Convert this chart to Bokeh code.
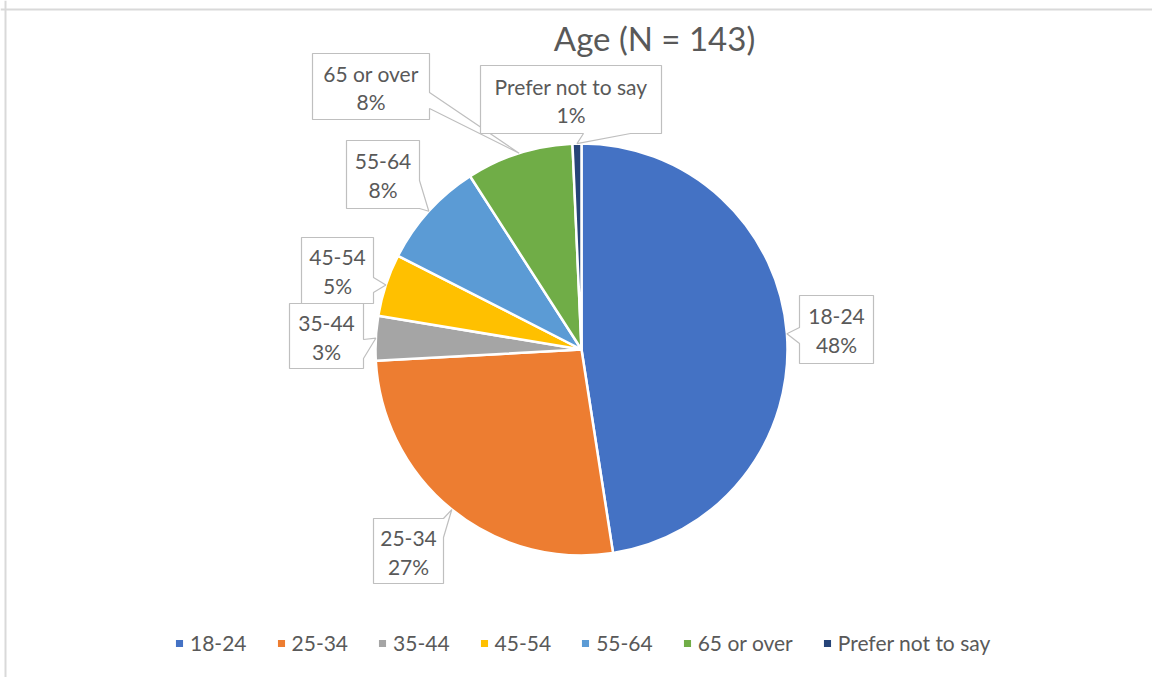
import math
from bokeh.plotting import figure
from bokeh.models import ColumnDataSource, Range1d, Legend, LegendItem, Span, Label
from bokeh.embed import file_html
from bokeh.resources import INLINE
from bokeh.core.properties import value

# ---------------- data ----------------
title_text = "Age (N = 143)"
categories = ["18-24", "25-34", "35-44", "45-54", "55-64", "65 or over", "Prefer not to say"]
counts = [68, 38, 5, 7, 12, 12, 1]
colors = ["#4472C4", "#ED7D31", "#A5A5A5", "#FFC000", "#5B9BD5", "#70AD47", "#264478"]

# ---------------- layout (page pixel coordinates) ----------------
W, H = 1152, 677
OX, OY = 0, 0          # where the figure's top-left sits on the page


def dx(ix):
    return ix - OX


def dy(iy):
    return H + OY - iy


CX, CY, R = 581, 349, 206     # pie centre and radius (page px)
FONT = "Lato"
TXT = "#595959"

# callout boxes: (x0, y0, x1, y1, edge, a, b) – pointer base on given edge between a..b
boxes = [
    (799, 295, 873, 363, "left", 327, 343),
    (373, 518, 443, 583, "right", 518, 537),
    (289, 303, 363, 368, "right", 339, 358),
    (301, 237, 373, 303, "right", 277, 292),
    (346, 140, 419, 208, "right", 180, 208),
    (312, 53, 429, 119, "right", 92, 108),
    (480, 65, 661, 133, "bottom", 583, 630),
]

total = sum(counts)
cum = [0]
for c in counts:
    cum.append(cum[-1] + c)

start = [math.pi / 2 - 2 * math.pi * cum[i] / total for i in range(len(counts))]
end = [math.pi / 2 - 2 * math.pi * cum[i + 1] / total for i in range(len(counts))]
pct = [f"{int(c * 100 / total + 0.5)}%" for c in counts]

p = figure(width=W, height=H, output_backend="svg", toolbar_location=None,
           x_range=Range1d(0, W), y_range=Range1d(0, H),
           x_axis_location=None, y_axis_location=None, min_border=0)
p.outline_line_color = None
p.grid.visible = False
p.background_fill_color = "white"
p.border_fill_color = "white"

src = ColumnDataSource(dict(x=[dx(CX)] * len(counts), y=[dy(CY)] * len(counts),
                            start=start, end=end, color=colors, cat=categories))
wr = p.wedge(x="x", y="y", radius=R, start_angle="start", end_angle="end",
             direction="clock", fill_color="color", line_color="white",
             line_width=2.5, source=src)

# callouts, pointer tips at the middle of each slice's outer edge
xs, ys, tx1, ty1, tx2, ty2 = [], [], [], [], [], []
for i, (x0, y0, x1, y1, edge, a, b) in enumerate(boxes):
    mid = 2 * math.pi * (cum[i] + counts[i] / 2) / total
    tip = (CX + R * math.sin(mid), CY - R * math.cos(mid))
    pts = [(x0, y0)]
    if edge == "top":
        pts += [(a, y0), tip, (b, y0)]
    pts += [(x1, y0)]
    if edge == "right":
        pts += [(x1, a), tip, (x1, b)]
    pts += [(x1, y1)]
    if edge == "bottom":
        pts += [(b, y1), tip, (a, y1)]
    pts += [(x0, y1)]
    if edge == "left":
        pts += [(x0, b), tip, (x0, a)]
    xs.append([dx(px) for px, _ in pts])
    ys.append([dy(py) for _, py in pts])
    cx = (x0 + x1) / 2
    cy = (y0 + y1) / 2
    tx1.append(dx(cx)); ty1.append(dy(cy - 13))
    tx2.append(dx(cx)); ty2.append(dy(cy + 15))

p.patches(xs, ys, fill_color="white", line_color="#BFBFBF", line_width=1.2)
p.text(tx1, ty1, text=categories, text_align="center", text_baseline="middle",
       text_font=value(FONT), text_font_size="21px", text_color=TXT)
p.text(tx2, ty2, text=pct, text_align="center", text_baseline="middle",
       text_font=value(FONT), text_font_size="21px", text_color=TXT)

# title
p.add_layout(Label(x=dx(654), y=dy(37), text=title_text, text_align="center",
                   text_baseline="middle", text_font=FONT, text_font_size="33px",
                   text_color=TXT))

# chart-area border (left and top visible)
p.add_layout(Span(location=dx(5), dimension="height", line_color="#D9D9D9", line_width=2))
p.add_layout(Span(location=dy(9), dimension="width", line_color="#D9D9D9", line_width=2))

legend = Legend(items=[LegendItem(label=categories[i], renderers=[wr], index=i)
                       for i in range(len(categories))],
                orientation="horizontal", location=(dx(173), dy(642) - 13),
                glyph_width=12, glyph_height=12, label_standoff=5, spacing=28,
                padding=0, margin=0, border_line_color=None,
                background_fill_alpha=0, label_text_font=FONT,
                label_text_font_size="21px", label_text_color=TXT,
                label_text_baseline="middle")
p.add_layout(legend)

open("out.html", "w").write(file_html(p, INLINE))
